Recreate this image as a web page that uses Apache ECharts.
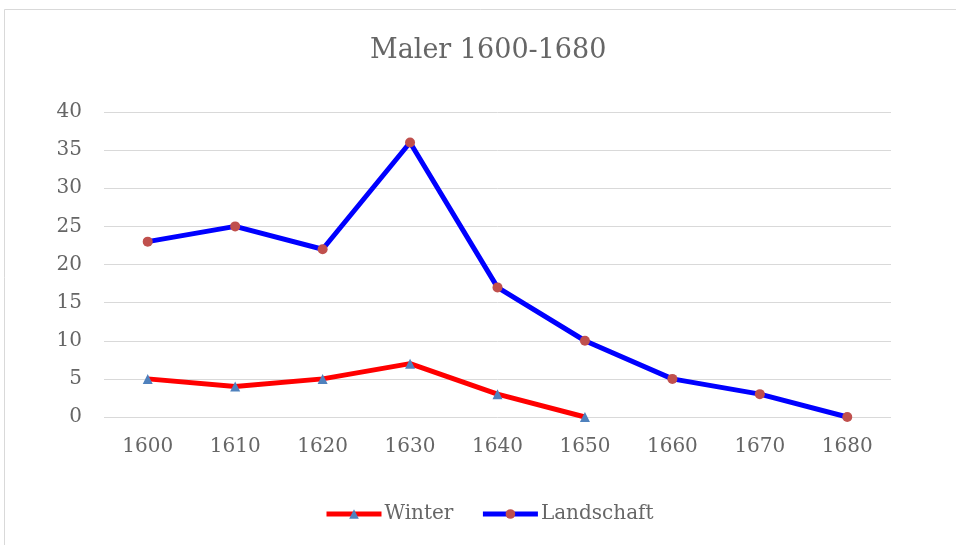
<!DOCTYPE html>
<html>
<head>
<meta charset="utf-8">
<script src="https://cdn.jsdelivr.net/npm/echarts@6/dist/echarts.min.js"></script>
<style>
html,body{margin:0;padding:0;background:#fff;}
#chart{width:956px;height:545px;}
</style>
</head>
<body>
<div id="chart"></div>
<script>
const categories = ['1600','1610','1620','1630','1640','1650','1660','1670','1680'];
const winter = [5, 4, 5, 7, 3, 0, null, null, null];
const landschaft = [23, 25, 22, 36, 17, 10, 5, 3, 0];
const yTicks = {min: 0, max: 40, interval: 5};

const font = 'DejaVu Serif';
const chart = echarts.init(document.getElementById('chart'));
chart.setOption({
  animation: false,
  backgroundColor: '#fff',
  graphic: [{
    type: 'rect',
    shape: {x: 4.5, y: 9.5, width: 1000, height: 600},
    style: {fill: 'none', stroke: '#d9d9d9', lineWidth: 1}
  }],
  title: {
    text: 'Maler 1600-1680',
    left: 365,
    top: 32,
    textStyle: {fontFamily: font, fontSize: 27, fontWeight: 'normal', color: '#666'}
  },
  grid: {left: 104, right: 65, top: 112, bottom: 128, containLabel: false},
  legend: {
    bottom: 16,
    left: 319,
    itemWidth: 55,
    itemHeight: 12,
    itemGap: 27,
    lineStyle: {width: 5},
    textStyle: {fontFamily: font, fontSize: 20, color: '#666', padding: [0,0,0,-2]},
    data: ['Winter', 'Landschaft']
  },
  xAxis: {
    type: 'category',
    data: categories,
    boundaryGap: true,
    axisLine: {show: false},
    axisTick: {show: false},
    axisLabel: {fontFamily: font, fontSize: 20, color: '#666', margin: 20}
  },
  yAxis: {
    type: 'value',
    min: yTicks.min, max: yTicks.max, interval: yTicks.interval,
    axisLine: {show: false},
    axisTick: {show: false},
    splitLine: {lineStyle: {color: '#d9d9d9', width: 1}},
    axisLabel: {fontFamily: font, fontSize: 20, color: '#666', margin: 22}
  },
  series: [
    {
      name: 'Winter',
      type: 'line',
      data: winter,
      symbol: 'triangle',
      symbolSize: 10,
      lineStyle: {color: '#ff0000', width: 5},
      itemStyle: {color: '#4f81bd'},
      z: 3
    },
    {
      name: 'Landschaft',
      type: 'line',
      data: landschaft,
      symbol: 'circle',
      symbolSize: 10,
      lineStyle: {color: '#0000ff', width: 5},
      itemStyle: {color: '#c0504d'},
      z: 2
    }
  ]
});
</script>
</body>
</html>
